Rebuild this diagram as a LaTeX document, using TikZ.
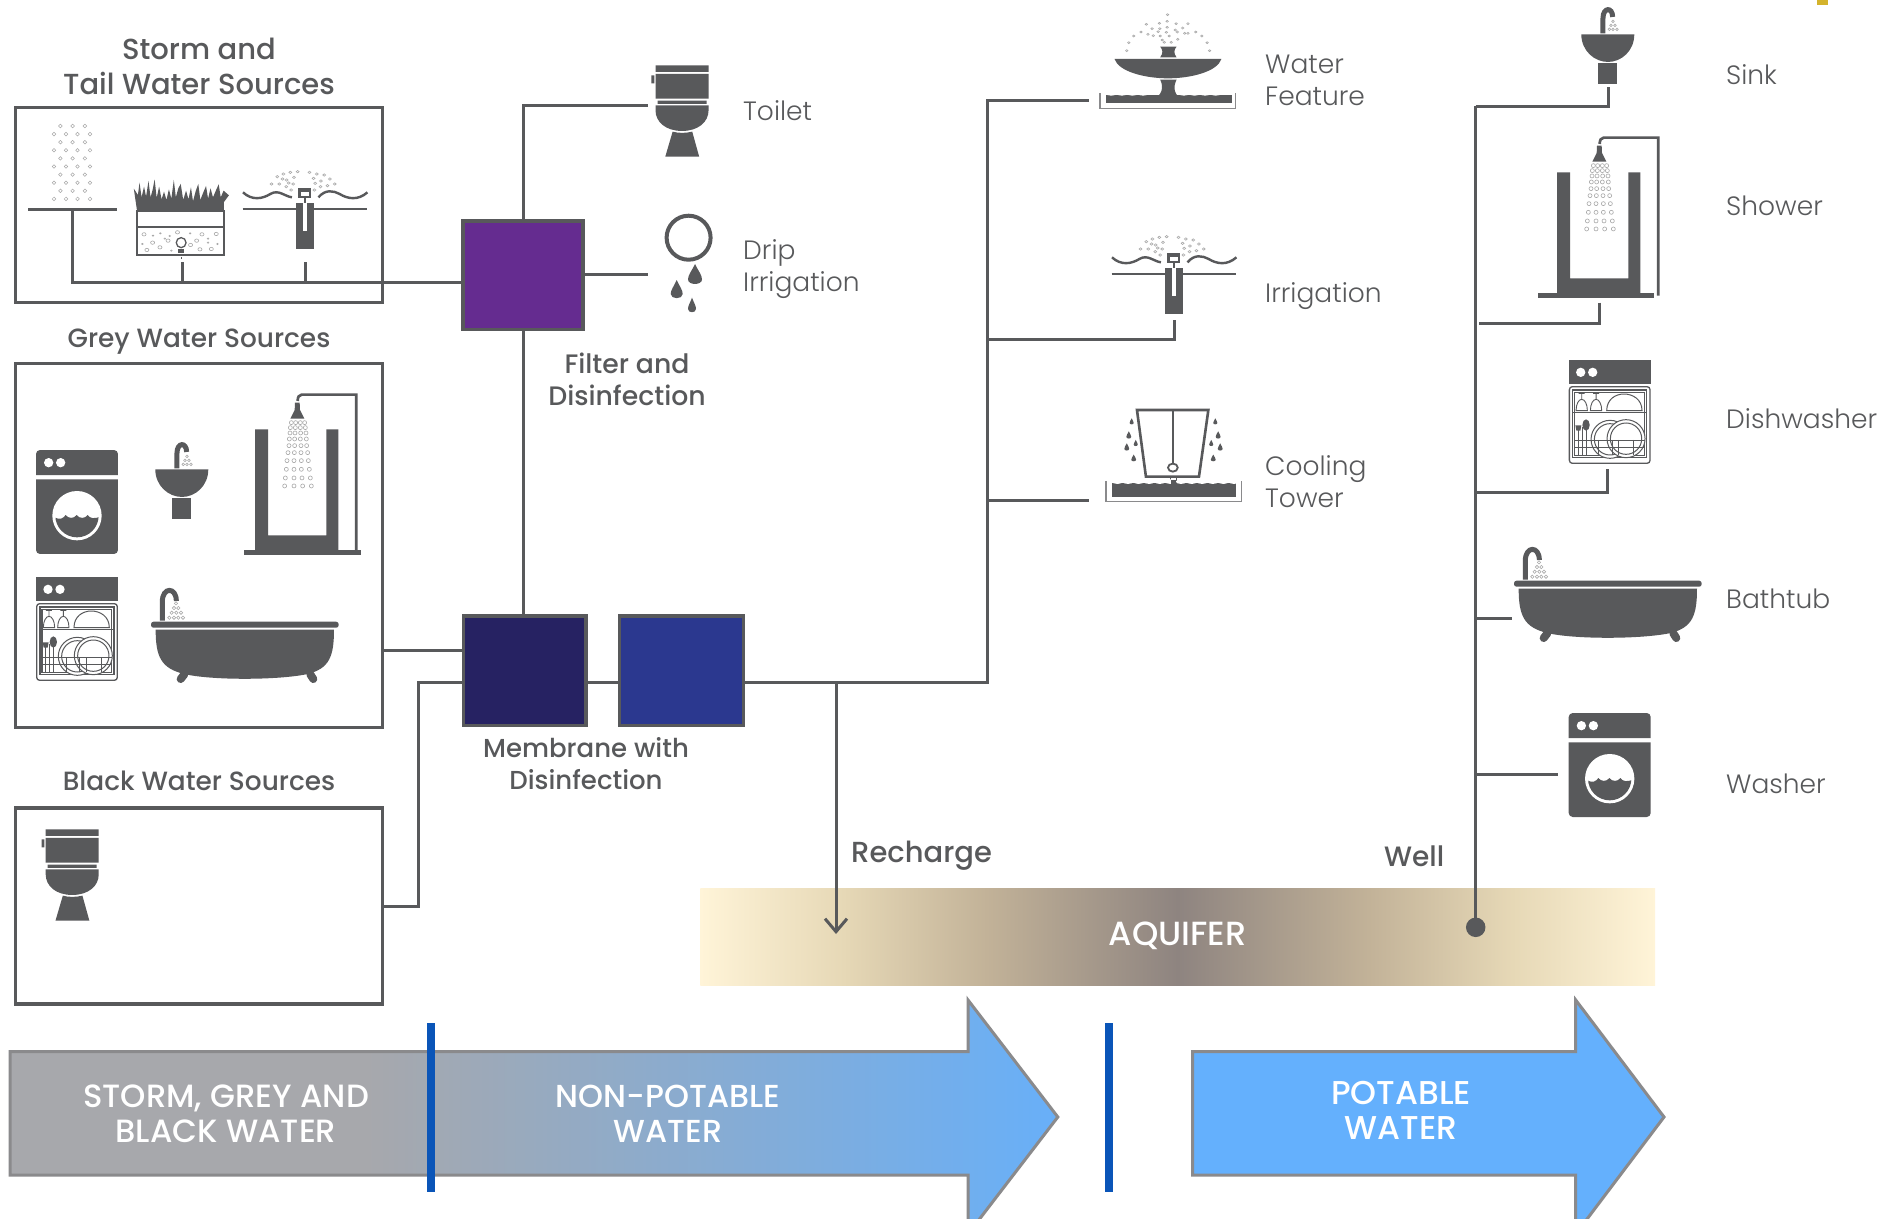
\documentclass[tikz,border=0pt]{standalone}
\usepackage{fontspec}
\usetikzlibrary{arrows.meta}
\newfontfamily\lightf{Poppins Light}
\newfontfamily\medf{Poppins Medium}
\definecolor{ink}{HTML}{58595B}
\definecolor{dotc}{HTML}{A8A8A8}
\definecolor{greyA}{HTML}{A7A8AC}
\definecolor{blueA}{HTML}{64B0FD}
\definecolor{barc}{HTML}{0A55B8}
\definecolor{sandc}{HTML}{FFF4D8}
\definecolor{sandb}{HTML}{E6D8B6}
\definecolor{sandd}{HTML}{C2B298}
\definecolor{mudc}{HTML}{8E8480}
\definecolor{edgec}{HTML}{8A8A8C}
\definecolor{goldc}{HTML}{D4B32C}
\definecolor{purplec}{HTML}{652C90}
\definecolor{navyc}{HTML}{262262}
\definecolor{indigoc}{HTML}{2B388F}
\pgfdeclarehorizontalshading{flowshade}{100bp}{color(0bp)=(greyA);color(42bp)=(greyA);color(77bp)=(blueA);color(100bp)=(blueA)}
\pgfdeclarehorizontalshading{aqshade}{100bp}{color(0bp)=(sandc);color(25bp)=(sandc);color(32.5bp)=(sandb);color(40bp)=(sandd);color(50bp)=(mudc);color(60bp)=(sandd);color(67.5bp)=(sandb);color(75bp)=(sandc);color(100bp)=(sandc)}
\newcommand\dotsat[2]{\foreach \p in {#2} \draw[dotc,line width=.6pt] \p circle[radius=#1];}
\newcommand\mytear[4]{\fill[ink] (#1,#2-#4/2) .. controls (#1+#3/4,#2-#4/6) and (#1+#3/2,#2) .. (#1+#3/2,#2+#4/5) .. controls (#1+#3/2,#2+#4/2.1) and (#1-#3/2,#2+#4/2.1) .. (#1-#3/2,#2+#4/5) .. controls (#1-#3/2,#2) and (#1-#3/4,#2-#4/6) .. (#1,#2-#4/2);}
\tikzset{
 pipe/.style={draw=ink,line width=3pt},
 srcbox/.style={draw=ink,line width=3.5pt,fill=white,inner sep=0pt},
 procbox/.style={draw=ink,line width=3.5pt,inner sep=0pt},
 lbl/.style={font=\lightf\fontsize{26.5}{32}\selectfont,text=ink,inner sep=0pt,anchor=base west,align=left},
 hdr/.style={font=\medf\fontsize{#1}{32}\selectfont,text=ink,inner sep=0pt,anchor=base,align=center},
 wht/.style={font=\medf\fontsize{#1}{35}\selectfont,text=white,inner sep=0pt,anchor=base,align=center},
 washerIcon/.pic={\begin{scope}[x=.3333pt,y=-.3333pt]
  \fill[ink] (0,75) [rounded corners=4pt] -- (0,0) -- (246,0) [sharp corners] -- (246,75) -- cycle;
  \fill[ink] (0,88) -- (246,88) [rounded corners=4pt] -- (246,312) -- (0,312) [sharp corners] -- (0,88) -- cycle;
  \fill[white] (38,38) circle[radius=14] (74,38) circle[radius=14] (123,197) circle[radius=74];
  \begin{scope}\clip (123,197) circle[radius=65];
   \fill[ink] (50,198) -- (58,203) .. controls (70,210) and (82,206) .. (89,195) .. controls (96,206) and (114,207) .. (122,195) .. controls (130,207) and (148,206) .. (155,195) .. controls (162,206) and (176,208) .. (196,198) -- (196,270) -- (50,270) -- cycle;
  \end{scope}
 \end{scope}},
 dishIcon/.pic={\begin{scope}[x=.3333pt,y=-.3333pt]
  \fill[ink] (0,0) rectangle (246,73);
  \fill[white] (36,37) circle[radius=14] (72,37) circle[radius=14];
  \draw[ink,line width=1.3pt,rounded corners=3pt] (2,80) rectangle (244,310);
  \draw[ink,line width=1.1pt] (12,90) rectangle (234,293);
  \draw[ink,line width=1pt] (18,97) rectangle (228,286);
  \draw[ink,line width=1.3pt] (14,158) -- (232,158);
  \foreach \gx in {39,82}{
   \draw[ink,line width=.9pt] (\gx-9,100) -- (\gx+9,100) (\gx,100) -- (\gx,118) (\gx-17,152) .. controls (\gx-17,132) and (\gx-9,118) .. (\gx,118) .. controls (\gx+9,118) and (\gx+17,132) .. (\gx+17,152) -- cycle;}
  \draw[ink,line width=1pt] (114,152) .. controls (114,118) and (140,102) .. (166,102) .. controls (192,102) and (220,118) .. (220,152) -- cycle;
  \draw[ink,line width=1pt,fill=white] (124,238) circle[radius=57] (124,238) circle[radius=47];
  \draw[ink,line width=1pt,fill=white] (172,236) circle[radius=57];
  \draw[ink,line width=1pt] (172,236) circle[radius=47];
  \draw[ink,line width=.9pt] (18,240) -- (228,240) (18,262) -- (228,262) (40,200) -- (40,286) (18,200) -- (18,286) (90,240) -- (90,286) (130,240) -- (130,286) (150,240) -- (150,286) (195,240) -- (195,286);
  \fill[ink] (20,196) -- (38,196) -- (35,212) -- (23,212) -- cycle;
  \draw[ink,line width=1pt] (29,205) -- (29,286);
  \fill[ink] (52,195) ellipse[x radius=11,y radius=17];
  \draw[ink,line width=1pt] (52,205) -- (52,286);
 \end{scope}},
 sinkIcon/.pic={\begin{scope}[x=.3333pt,y=-.3333pt]
  \fill[ink] (0,0) -- (159,0) .. controls (159,50) and (120,83) .. (80,83) .. controls (40,83) and (0,50) .. (0,0) -- cycle;
  \fill[ink] (51,86) rectangle (107,150);
  \draw[ink,line width=5pt] (65,-3) -- (65,-48) .. controls (65,-82) and (94,-82) .. (94,-52);
  \dotsat{4}{(95,-39),(89,-27),(101,-27),(84,-15),(95,-15),(107,-15)}
 \end{scope}},
 showerIcon/.pic={\begin{scope}[x=.3333pt,y=-.3333pt]
  \fill[ink] (0,0) -- (39,0) -- (39,318) -- (214,318) -- (214,0) -- (250,0) -- (250,366) -- (0,366) -- cycle;
  \draw[ink,line width=2.7pt] (304,370) -- (304,-104) -- (140,-104) .. controls (132,-104) and (128,-96) .. (128,-85);
  \fill[ink] (120,-80) -- (134,-80) -- (135,-58) -- (148,-32) -- (106,-32) -- (119,-58) -- cycle;
  \foreach \yy/\a/\b/\c/\d in {497/460/473/487/500,512/457/472/487/502,528/456/471/488/504,546/454/470/487/505,566/453/470/489/506,587/450/469/489/509,611/447/468/490/511,637/445/468/490/514,663/442/468/492/517,687/440/468/494/520}{
   \dotsat{6}{(\a-351,\yy-517),(\b-351,\yy-517),(\c-351,\yy-517),(\d-351,\yy-517)}}
 \end{scope}},
 bathIcon/.pic={\begin{scope}[x=.3333pt,y=-.3333pt]
  \fill[ink,rounded corners=2.5pt] (0,0) rectangle (563,18);
  \fill[ink] (14,24) -- (549,24) .. controls (549,105) and (535,140) .. (470,157) .. controls (380,176) and (180,176) .. (100,157) .. controls (30,140) and (14,105) .. (14,24) -- cycle;
  \draw[ink,line width=8pt,line cap=round] (100,158) -- (89,172) (478,158) -- (487,172);
  \draw[ink,line width=5pt] (34,-3) -- (34,-60) .. controls (34,-105) and (76,-105) .. (76,-62);
  \dotsat{5}{(75,-55),(69,-41),(82,-41),(62,-27),(76,-27),(90,-27),(55,-12),(69,-12),(82,-12),(96,-12)}
 \end{scope}},
 toiletIcon/.pic={\begin{scope}[x=.408pt,y=-.3333pt]
  \fill[ink] (0,0) rectangle (130,20) (0,26) rectangle (130,100) (-10,30) rectangle (-3,54) (5,106) rectangle (125,116);
  \fill[ink] (0,120) -- (130,120) -- (130,135) .. controls (130,170) and (105,197) .. (65,197) .. controls (25,197) and (0,170) .. (0,135) -- cycle;
  \fill[ink] (42,199) .. controls (55,204) and (75,204) .. (90,199) -- (107,274) -- (24,274) -- cycle;
 \end{scope}},
 sprinklerIcon/.pic={\begin{scope}[x=.408pt,y=-.3333pt]
  \draw[ink,line width=2.6pt] (-153,0) -- (153,0);
  \fill[ink] (-23,-17) rectangle (23,119);
  \fill[white] (-4,-17) rectangle (5,65);
  \draw[ink,line width=1.5pt] (0,-32) -- (0,-17);
  \fill[ink] (-17,-62) rectangle (15,-32);
  \fill[white] (-10,-52) rectangle (9,-40);
  \draw[ink,line width=2.4pt] (-152,-50) .. controls (-130,-25) and (-105,-30) .. (-85,-45) .. controls (-65,-60) and (-50,-38) .. (-32,-35) (33,-35) .. controls (50,-60) and (70,-55) .. (85,-45) .. controls (105,-30) and (130,-25) .. (153,-50);
  \dotsat{3.6}{(-18,-112),(-36,-110),(-53,-105),(-68,-97),(-82,-75),(-63,-75),(-45,-87),(-27,-95),(-29,-75),(-46,-67),(-34,-57),(11,-110),(29,-105),(47,-102),(61,-90),(73,-75),(55,-70),(39,-84),(21,-92),(25,-77),(38,-67),(23,-57),(-55,-90),(-40,-78)}
 \end{scope}}
}
\begin{document}
\begin{tikzpicture}[x=1pt,y=-1pt]
\useasboundingbox (0,0) rectangle (1902,1218);
\clip (0,0) rectangle (1902,1218);
\fill[white] (0,0) rectangle (1902,1218);
\fill[goldc] (1817,0) rectangle (1828,5);

% source boxes
\node[srcbox,minimum width=367pt,minimum height=195pt] (stormBox) at (199.2,205) {};
\node[srcbox,minimum width=367pt,minimum height=364pt] (greyBox) at (199.2,545.5) {};
\node[srcbox,minimum width=367pt,minimum height=196pt] (blackBox) at (199.2,906) {};
\node[hdr=29,font=\medf\fontsize{29}{35}\selectfont] (stormLbl) at (199,94) {Storm and\\Tail Water Sources};
\node[hdr=26.4] (greyLbl) at (199,347) {Grey Water Sources};
\node[hdr=26.4] (blackLbl) at (199,790) {Black Water Sources};

% process boxes
\node[procbox,fill=purplec,minimum width=120pt,minimum height=108.5pt] (filter) at (523.2,275) {};
\node[procbox,fill=navyc,minimum width=122.5pt,minimum height=109.5pt] (memA) at (524.7,670.5) {};
\node[procbox,fill=indigoc,minimum width=124pt,minimum height=109.5pt] (memB) at (681.7,670.5) {};
\node[hdr=26.7] (filterLbl) at (627,405.5) {Filter and\\Disinfection};
\node[hdr=26] (memLbl) at (586,789) {Membrane with\\Disinfection};

% connector ends
\coordinate (rainOut) at (72,210);
\coordinate (roofOut) at (182.5,262);
\coordinate (sprOut) at (305,262);
\coordinate (stormIn) at (462,282);
\coordinate (toiletIn) at (648,105);
\coordinate (dripIn) at (648,274.7);
\coordinate (greyOut) at (383,650.7);
\coordinate (blackOut) at (383,906);
\coordinate (memIn) at (462,682.7);
\coordinate (memOut) at (743,682.7);
\coordinate (elbowOut) at (987.3,682.7);
\coordinate (rechargeTee) at (836,682.7);
\coordinate (rechargeEnd) at (836,934);
\coordinate (fountainIn) at (1089,100);
\coordinate (irrigIn) at (1174,320);
\coordinate (coolIn) at (1089,500);
\coordinate (sinkIn) at (1608,87);
\coordinate (showerIn) at (1599.7,302.7);
\coordinate (dishIn) at (1607.7,469);
\coordinate (bathIn) at (1511.7,618.7);
\coordinate (washIn) at (1557.7,774);
\coordinate (wellTop) at (1475.7,106);

% aquifer
\node[shading=aqshade,minimum width=954.6pt,minimum height=97pt,inner sep=0pt,font=\medf\fontsize{33.5}{38}\selectfont,text=white] (aquifer) at (1177.7,936.5) {\raisebox{5pt}{AQUIFER}};
\node[circle,fill=ink,inner sep=0pt,minimum size=19.5pt] (wellDot) at (1475.7,927.3) {};

\draw[pipe] (rainOut) |- (stormIn);
\draw[pipe] (roofOut) -- (roofOut |- stormIn);
\draw[pipe] (sprOut) -- (sprOut |- stormIn);
\draw[pipe] (filter.north) |- (toiletIn);
\draw[pipe] (filter.east |- dripIn) -- (dripIn);
\draw[pipe] (filter.south) -- (filter.south |- memA.north);
\draw[pipe] (greyOut) -- (memA.west |- greyOut);
\draw[pipe] (blackOut) -| (418.5,682.7) -- (memIn);
\draw[pipe] (memA.east |- memIn) -- (memB.west |- memIn);
\draw[pipe] (memB.east |- memOut) -- (elbowOut) |- (fountainIn);
\draw[pipe] (elbowOut |- irrigIn) ++(0,19.3) -| (irrigIn);
\draw[pipe] (elbowOut |- coolIn) -- (coolIn);
\draw[pipe,-{Straight Barb[length=13pt,width=22pt]}] (rechargeTee) -- (rechargeEnd);
\draw[pipe] (wellTop) -- (wellDot.center);
\draw[pipe] (wellTop) -| (sinkIn);
\draw[pipe] (showerIn) |- (1479,323);
\draw[pipe] (dishIn) |- (1475.7,492.7);
\draw[pipe] (bathIn) -- (bathIn -| wellTop);
\draw[pipe] (washIn) -- (washIn -| wellTop);

% rain
\draw[ink,line width=3pt] (28,209.5) -- (117,209.5);
\foreach \ry in {0,2,4,6,8}{\foreach \rx in {60.4,72.6,84.9}{\draw[dotc,line width=.5pt] (\rx,126+8.1*\ry) circle[radius=1.8];}}
\foreach \ry in {1,3,5,7,9}{\foreach \rx in {54,66,77.5,90}{\draw[dotc,line width=.5pt] (\rx,126+8.1*\ry) circle[radius=1.8];}}

% green roof (zoomed coordinates)
\begin{scope}[x=.408pt,y=-.3333pt]
 \fill[ink] (336,634) -- (328,566) -- (338,585) -- (342,548) -- (347,592) -- (353,560) -- (358,590) -- (364,543) -- (369,592) -- (374,570) -- (379,538) -- (384,594) -- (390,560) -- (396,598) -- (402,575) -- (408,600) -- (414,568) -- (420,596) -- (426,540) -- (431,592) -- (437,565) -- (443,552) -- (449,600) -- (456,572) -- (462,598) -- (468,562) -- (473,604) -- (480,572) -- (486,552) -- (491,600) -- (498,578) -- (505,558) -- (510,596) -- (516,565) -- (522,592) -- (529,572) -- (536,553) -- (541,592) -- (548,572) -- (561,586) -- (549,606) -- (549,634) -- cycle;
 \draw[ink,line width=2.2pt] (336,632) rectangle (549,764);
 \draw[ink,line width=1.8pt] (336,682) -- (549,682);
 \dotsat{5}{(353,703),(374,728),(435,697),(495,703),(530,702),(518,747),(490,748),(360,750),(412,722),(467,735),(482,722),(392,742)}
 \dotsat{2}{(375,707),(393,700),(416,708),(404,716),(349,732),(420,752),(510,716),(533,732),(466,700),(510,728)}
 \draw[ink,line width=1.3pt] (444,728) ellipse[x radius=12,y radius=15];
 \fill[ink] (437,746) rectangle (451,758);
 \draw[ink,line width=1pt] (446,762) -- (446,768) (446,772) -- (446,776);
\end{scope}
\pic at (305,209) {sprinklerIcon};
\pic at (1174,274) {sprinklerIcon};

% grey water icons
\pic at (36,450) {washerIcon};
\pic at (155.3,469.3) {sinkIcon};
\pic at (255,429.3) {showerIcon};
\fill[ink] (244.3,550) rectangle (360.7,554.5);
\pic at (36,577) {dishIcon};
\pic at (151,621.7) {bathIcon};
\pic at (45.7,829.3) {toiletIcon};

% right icons
\pic at (655.5,65.3) {toiletIcon};
\pic at (1581.3,34.3) {sinkIcon};
\pic at (1557,172.3) {showerIcon};
\fill[ink] (1537.7,293.3) rectangle (1654.3,297.7);
\pic at (1568.7,360) {dishIcon};
\pic at (1514,580.7) {bathIcon};
\pic at (1568.7,713) {washerIcon};

% drip
\draw[ink,line width=4pt] (688.6,237.7) circle[radius=22];
\mytear{695}{275}{14}{22}
\mytear{676.7}{290}{12}{20}
\mytear{692}{305.7}{8}{16}

% fountain and cooling tower (zoomed coordinates)
\begin{scope}[x=.408pt,y=-.3333pt,shift={(1568.6,0)}]
 \fill[ink] (1163,177) -- (1425,177) .. controls (1415,215) and (1350,235) .. (1294,235) .. controls (1238,235) and (1173,215) .. (1163,177) -- cycle;
 \fill[ink] (1275,140) -- (1315,140) .. controls (1308,150) and (1308,160) .. (1315,172) -- (1275,172) .. controls (1282,160) and (1282,150) .. (1275,140) -- cycle;
 \fill[ink] (1275,239) -- (1315,239) .. controls (1305,265) and (1310,285) .. (1330,300) -- (1258,300) .. controls (1278,285) and (1285,265) .. (1275,239) -- cycle;
 \draw[edgec,line width=1.5pt] (1128,280) -- (1128,325) -- (1460,325) -- (1460,280);
 \fill[ink] (1142,284) rectangle (1450,309);
 \foreach \sx in {0,26,...,102}{\fill[white] (1155+\sx,281) ellipse[x radius=13,y radius=6];\fill[white] (1333+\sx,281) ellipse[x radius=13,y radius=6];}
 \dotsat{3}{(1293,44),(1292,64),(1273,70),(1314,71),(1343,71),(1241,73),(1292,82),(1274,86),(1255,86),(1330,84),(1312,90),(1228,96),(1290,97),(1270,95),(1245,103),(1258,107),(1275,108),(1297,108),(1317,96),(1335,100),(1362,96),(1377,108),(1210,108),(1198,128),(1193,152),(1390,128),(1396,152),(1280,120),(1302,127),(1318,118),(1343,100),(1285,127)}
 % cooling tower
 \draw[ink,line width=2.6pt] (1218,1230) -- (1393,1230) -- (1370,1430) -- (1240,1430) -- cycle;
 \draw[ink,line width=2pt] (1306,1230) -- (1306,1390);
 \draw[ink,line width=1.8pt] (1306,1403) circle[radius=12];
 \draw[ink,line width=1.5pt] (1300,1432) -- (1300,1455) (1315,1432) -- (1315,1455);
 \draw[edgec,line width=1.5pt] (1142,1443) -- (1142,1505) -- (1474,1505) -- (1474,1443);
 \fill[ink] (1158,1448) rectangle (1460,1490);
 \foreach \sx in {0,26,...,286}{\fill[white] (1170+\sx,1445) ellipse[x radius=13,y radius=7];}
 \fill[ink] (1301,1440) rectangle (1314,1460);
 \mytear{1205}{1265}{10}{20}
 \mytear{1198}{1306}{12}{24}
 \mytear{1193}{1342}{12}{24}
 \mytear{1215}{1330}{10}{20}
 \mytear{1210}{1375}{12}{22}
 \mytear{1410}{1265}{10}{20}
 \mytear{1417}{1306}{12}{24}
 \mytear{1422}{1342}{12}{24}
 \mytear{1400}{1330}{10}{20}
 \mytear{1405}{1375}{12}{22}
\end{scope}

% flow arrows
\path[draw=edgec,line width=3pt,shading=flowshade] (10,1051.7) -- (968,1051.7) -- (968,1000) -- (1057.8,1117) -- (968,1234) -- (968,1175) -- (10,1175) -- cycle;
\path[draw=edgec,line width=3pt,fill=blueA] (1192.6,1051.7) -- (1575.7,1051.7) -- (1575.7,1000) -- (1664,1117) -- (1575.7,1234) -- (1575.7,1175) -- (1192.6,1175) -- cycle;
\fill[barc] (426.6,1023) rectangle (434.6,1192);
\fill[barc] (1104.7,1023) rectangle (1112.7,1192);
\node[wht=32.2] (bwLbl) at (226,1142.7) {STORM, GREY AND\\BLACK WATER};
\node[wht=31.8] (npLbl) at (668,1142.7) {NON-POTABLE\\WATER};
\node[wht=33] (pLbl) at (1401,1139) {POTABLE\\WATER};

% labels
\node[lbl] (toiletLbl) at (743,120) {Toilet};
\node[lbl] (dripLbl) at (743,291) {Drip\\Irrigation};
\node[lbl] (fountainLbl) at (1265,105) {Water\\Feature};
\node[lbl] (irrigLbl) at (1265,302.7) {Irrigation};
\node[lbl] (coolLbl) at (1265,507.5) {Cooling\\Tower};
\node[lbl] (sinkLbl) at (1726,84) {Sink};
\node[lbl] (showerLbl) at (1726,215) {Shower};
\node[lbl] (dishLbl) at (1726,428) {Dishwasher};
\node[lbl] (bathLbl) at (1726,608.7) {Bathtub};
\node[lbl] (washLbl) at (1726,793.5) {Washer};
\node[hdr=29,anchor=base west] (rechLbl) at (851,862.7) {Recharge};
\node[hdr=28,anchor=base west] (wellLbl) at (1384,866.5) {Well};
\end{tikzpicture}
\end{document}
